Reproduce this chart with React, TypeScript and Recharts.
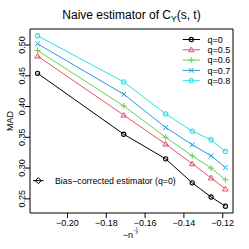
import React from 'react';
import { LineChart, Line, XAxis, YAxis, ReferenceArea } from 'recharts';

const xVals = [-0.2154, -0.171, -0.1494, -0.1357, -0.126, -0.1186];
const q0 = [0.454, 0.355, 0.315, 0.276, 0.253, 0.238];
const q05 = [0.482, 0.386, 0.339, 0.307, 0.284, 0.266];
const q06 = [0.491, 0.401, 0.35, 0.32, 0.3, 0.281];
const q07 = [0.502, 0.42, 0.366, 0.338, 0.32, 0.301];
const q08 = [0.515, 0.44, 0.388, 0.36, 0.346, 0.327];
const xTicks = [-0.2, -0.18, -0.16, -0.14, -0.12];
const yTicks = [0.25, 0.3, 0.35, 0.4, 0.45, 0.5];
const seriesNames = ['q=0', 'q=0.5', 'q=0.6', 'q=0.7', 'q=0.8'];
const extraLegend = 'Bias\u2212corrected estimator (q=0)';
const title = 'Naive estimator of C';

const data = xVals.map((x, i) => ({ x, q0: q0[i], q05: q05[i], q06: q06[i], q07: q07[i], q08: q08[i] }));

const xDomain = [-0.2193, -0.1147];
const yDomain = [0.227, 0.526];
const FONT = '"Liberation Sans", Arial, Helvetica, sans-serif';
const FS = 9;

type Shape = 'circle' | 'triangle' | 'plus' | 'cross' | 'diamond';
const series: { key: string; color: string; shape: Shape }[] = [
  { key: 'q0', color: '#000000', shape: 'circle' },
  { key: 'q05', color: '#DF536B', shape: 'triangle' },
  { key: 'q06', color: '#61D04F', shape: 'plus' },
  { key: 'q07', color: '#2297E6', shape: 'cross' },
  { key: 'q08', color: '#28E2E5', shape: 'circle' },
];

function Marker({ cx, cy, shape, color }: { cx: number; cy: number; shape: Shape; color: string }) {
  const s = 2.4;
  if (shape === 'circle') return <circle cx={cx} cy={cy} r={2.1} fill="none" stroke={color} strokeWidth={1.1} />;
  if (shape === 'triangle') {
    const h = 2.8;
    return (
      <polygon
        points={`${cx},${cy - h} ${cx - h},${cy + h * 0.7} ${cx + h},${cy + h * 0.7}`}
        fill="none"
        stroke={color}
        strokeWidth={1}
      />
    );
  }
  if (shape === 'plus')
    return (
      <g stroke={color} strokeWidth={1}>
        <line x1={cx - 3} y1={cy} x2={cx + 3} y2={cy} />
        <line x1={cx} y1={cy - 3} x2={cx} y2={cy + 3} />
      </g>
    );
  if (shape === 'cross')
    return (
      <g stroke={color} strokeWidth={1}>
        <line x1={cx - s} y1={cy - s} x2={cx + s} y2={cy + s} />
        <line x1={cx - s} y1={cy + s} x2={cx + s} y2={cy - s} />
      </g>
    );
  return (
    <polygon
      points={`${cx},${cy - 3} ${cx + 3},${cy} ${cx},${cy + 3} ${cx - 3},${cy}`}
      fill="none"
      stroke={color}
      strokeWidth={1}
    />
  );
}

const makeDot = (shape: Shape, color: string) => (props: any) => {
  const { cx, cy, index } = props;
  if (cx == null || cy == null) return <g key={index} />;
  return <Marker key={index} cx={cx} cy={cy} shape={shape} color={color} />;
};

const fmt = (v: number) => (v < 0 ? '\u2212' : '') + Math.abs(v).toFixed(2);

const YTick = (props: any) => {
  const { x, y, payload } = props;
  const bx = x + 2;
  return (
    <text
      x={bx}
      y={y}
      transform={`rotate(-90, ${bx}, ${y})`}
      textAnchor="middle"
      fontSize={FS}
      fontFamily={FONT}
      fill="#000"
    >
      {payload.value.toFixed(2)}
    </text>
  );
};

export default function App() {
  return (
    <div style={{ position: 'absolute', left: 0, top: 0, width: 249, height: 249, background: '#fff' }}>
      <LineChart width={249} height={249} data={data} margin={{ top: 29, right: 16, left: 0, bottom: 0 }}>
        <XAxis
          type="number"
          dataKey="x"
          domain={xDomain}
          ticks={xTicks}
          allowDataOverflow
          axisLine={false}
          tickLine={{ stroke: '#000' }}
          tickSize={5}
          height={36}
          tick={{ fontSize: FS, fill: '#000', fontFamily: FONT }}
          tickFormatter={fmt}
        />
        <YAxis
          type="number"
          domain={yDomain}
          ticks={yTicks}
          allowDataOverflow
          axisLine={false}
          tickLine={{ stroke: '#000' }}
          tickSize={5}
          width={30}
          tick={<YTick />}
        />
        <ReferenceArea
          x1={xDomain[0]}
          x2={xDomain[1]}
          y1={yDomain[0]}
          y2={yDomain[1]}
          fill="none"
          fillOpacity={0}
          stroke="#000"
          strokeWidth={1}
        />
        {series.map((s) => (
          <Line
            key={s.key}
            type="linear"
            dataKey={s.key}
            stroke={s.color}
            strokeWidth={1}
            dot={makeDot(s.shape, s.color)}
            activeDot={false}
            isAnimationActive={false}
          />
        ))}
      </LineChart>
      <svg
        width={249}
        height={249}
        style={{ position: 'absolute', left: 0, top: 0, pointerEvents: 'none' }}
        fontFamily={FONT}
      >
        <text x={131.5} y={19} textAnchor="middle" fontSize={12} fill="#000">
          {title}
          <tspan fontSize={8.5} dy={2.5}>Y</tspan>
          <tspan fontSize={12} dy={-2.5}>(s, t)</tspan>
        </text>
        <text x={13} y={121} transform="rotate(-90, 13, 121)" textAnchor="middle" fontSize={FS} fill="#000">
          MAD
        </text>
        <text x={133} y={237.5} textAnchor="end" fontSize={FS} fill="#000">
          {'\u2212n'}
        </text>
        <text x={133.6} y={231.5} fontSize={4.5} fill="#000">{'\u2212'}</text>
        <text x={136.8} y={230.2} fontSize={3.5} fill="#000" textAnchor="middle">1</text>
        <line x1={135.7} y1={231} x2={137.9} y2={231} stroke="#000" strokeWidth={0.4} />
        <text x={136.8} y={234.3} fontSize={3.5} fill="#000" textAnchor="middle">3</text>
        {series.map((s, i) => {
          const y = 39.5 + i * 10.3;
          return (
            <g key={s.key}>
              <line x1={182.7} y1={y} x2={200} y2={y} stroke={s.color} strokeWidth={1} />
              <Marker cx={191.3} cy={y} shape={s.shape} color={s.color} />
              <text x={207.5} y={y + 3.2} fontSize={FS} fill="#000">
                {seriesNames[i]}
              </text>
            </g>
          );
        })}
        <g>
          <line x1={33} y1={180.7} x2={43.5} y2={180.7} stroke="#000" strokeWidth={1} />
          <Marker cx={38.3} cy={180.7} shape="diamond" color="#000" />
          <text x={55} y={183.9} fontSize={8.8} fill="#000">
            {extraLegend}
          </text>
        </g>
      </svg>
    </div>
  );
}
